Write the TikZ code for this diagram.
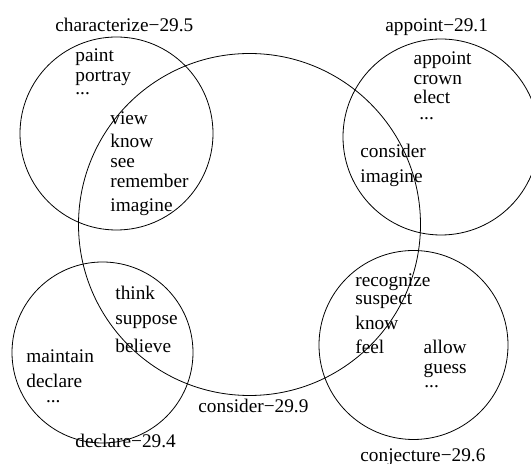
\documentclass[tikz,border=0pt]{standalone}
\usepackage{fontspec}
\setmainfont{Liberation Serif}
\usepackage{tikz}

\tikzset{word/.style={anchor=base west,inner sep=0pt,font=\fontsize{9.65}{11.6}\selectfont}}

\begin{document}
\begin{tikzpicture}[x=0.5pt,y=-0.5pt]

\useasboundingbox (0,0) rectangle (531,464);

\coordinate (charC) at (116.5,133.5);
\coordinate (consC) at (249.5,224.5);
\coordinate (appC) at (441,137);
\coordinate (declC) at (102.5,352.5);
\coordinate (conjC) at (413.5,345);

\draw (charC) circle (48.25pt);
\draw (consC) circle (85.5pt);
\draw (appC) circle (49pt);
\draw (declC) circle (45.25pt);
\draw (conjC) circle (47.25pt);

\node[word] (charL) at (55,31.7) {characterize−29.5};
\node[word] (appL) at (385,32) {appoint−29.1};
\node[word] (consL) at (198,413) {consider−29.9};
\node[word] (declL) at (75,448) {declare−29.4};
\node[word] (conjL) at (360,461.7) {conjecture−29.6};

\node[word] (paint) at (75,61.7) {paint};
\node[word] (portray) at (75,81.7) {portray};
\node[word] (charDots) at (75,95) {...};
\node[word] (view) at (110,125) {view};
\node[word] (knowA) at (110,148) {know};
\node[word] (see) at (110,168) {see};
\node[word] (remember) at (110,188) {remember};
\node[word] (imagineA) at (110,212) {imagine};

\node[word] (appoint) at (413.3,65) {appoint};
\node[word] (crown) at (413.3,85) {crown};
\node[word] (elect) at (413.3,104) {elect};
\node[word] (appDots) at (419,120) {...};
\node[word] (consider) at (360,158) {consider};
\node[word] (imagineB) at (360,183) {imagine};

\node[word] (think) at (115,300) {think};
\node[word] (suppose) at (115,325) {suppose};
\node[word] (believe) at (115,353) {believe};
\node[word] (maintain) at (26,363) {maintain};
\node[word] (declare) at (26,388) {declare};
\node[word] (declDots) at (45.7,403) {...};

\node[word] (recognize) at (355,287) {recognize};
\node[word] (suspect) at (355,305) {suspect};
\node[word] (knowB) at (355,330) {know};
\node[word] (feel) at (355,354) {feel};
\node[word] (allow) at (423.3,354) {allow};
\node[word] (guess) at (423.3,374) {guess};
\node[word] (conjDots) at (424,388) {...};

\end{tikzpicture}
\end{document}
